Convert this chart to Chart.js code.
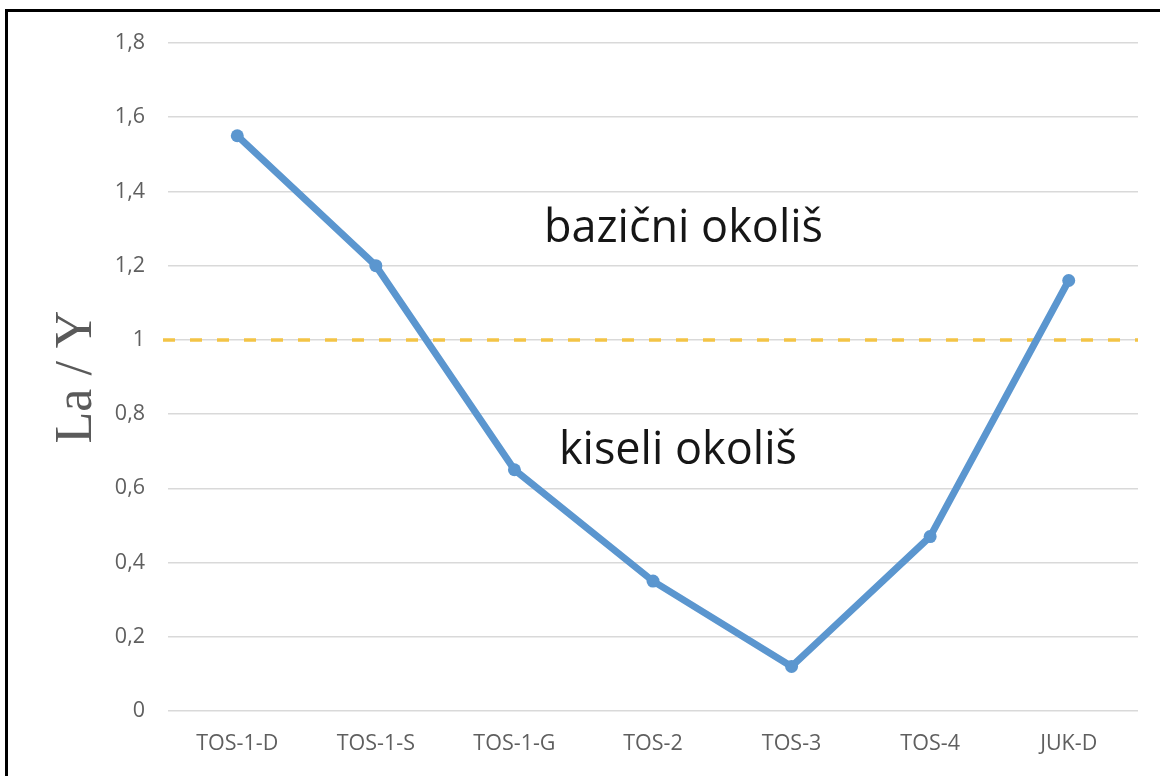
<!DOCTYPE html>
<html>
<head>
<meta charset="utf-8">
<title>La / Y</title>
<script src="https://cdn.jsdelivr.net/npm/chart.js@4/dist/chart.umd.min.js"></script>
<style>
  html, body { margin: 0; padding: 0; background: #ffffff; }
  #wrap { position: relative; width: 1160px; height: 776px; overflow: hidden; }
  #frame {
    position: absolute; left: 5px; top: 9px; right: -10px; bottom: -10px;
    border-top: 3px solid #000; border-left: 3px solid #000;
    pointer-events: none;
  }
  canvas { position: absolute; left: 0; top: 0; }
</style>
</head>
<body>
<div id="wrap">
  <canvas id="chart" width="1160" height="776"></canvas>
  <div id="frame"></div>
</div>
<script>
// Samples along the profile
const categories = ['TOS-1-D', 'TOS-1-S', 'TOS-1-G', 'TOS-2', 'TOS-3', 'TOS-4', 'JUK-D'];
// La/Y ratio for each sample
const laYRatio = [1.55, 1.2, 0.65, 0.35, 0.12, 0.47, 1.16];
// Value axis range
const yMin = 0;
const yMax = 1.8;
const yStep = 0.2;
// Ratio separating basic from acidic conditions
const boundaryLevel = 1;
// Zone captions
const zoneLabels = ['bazični okoliš', 'kiseli okoliš'];

const tickFont = { family: "'Open Sans', 'Noto Sans', sans-serif", size: 21.5 };
const tickColor = '#5f5f5f';

// Dashed boundary line across the plot, placed through the y scale
const boundaryPlugin = {
  id: 'boundaryLine',
  beforeDatasetsDraw(chart) {
    const { ctx, chartArea, scales } = chart;
    const y = scales.y.getPixelForValue(boundaryLevel);
    ctx.save();
    ctx.strokeStyle = '#f3c446';
    ctx.lineWidth = 3.5;
    ctx.setLineDash([12, 15]);
    ctx.beginPath();
    ctx.moveTo(chartArea.left - 5, y);
    ctx.lineTo(chartArea.right, y);
    ctx.stroke();
    ctx.restore();
  }
};

// Zone captions anchored in data space (category index, value)
const zonePlugin = {
  id: 'zoneCaptions',
  afterDatasetsDraw(chart) {
    const { ctx, scales } = chart;
    const anchors = [
      { x: 3.22, y: 1.265 },
      { x: 3.18, y: 0.665 }
    ];
    ctx.save();
    ctx.fillStyle = '#161616';
    ctx.font = "45px 'Open Sans', 'Noto Sans', sans-serif";
    ctx.textAlign = 'center';
    ctx.textBaseline = 'alphabetic';
    zoneLabels.forEach((text, i) => {
      ctx.fillText(text, scales.x.getPixelForValue(anchors[i].x), scales.y.getPixelForValue(anchors[i].y));
    });
    ctx.restore();
  }
};

new Chart(document.getElementById('chart'), {
  type: 'line',
  data: {
    labels: categories,
    datasets: [{
      label: 'La / Y',
      data: laYRatio,
      borderColor: '#5b96cf',
      backgroundColor: '#5b96cf',
      borderWidth: 7,
      pointRadius: 6.5,
      pointHoverRadius: 6.5,
      pointBorderWidth: 0,
      tension: 0,
      borderJoinStyle: 'round',
      borderCapStyle: 'round',
      clip: false
    }]
  },
  options: {
    responsive: false,
    animation: false,
    devicePixelRatio: 1,
    layout: { padding: { left: 8, right: 22, top: 43, bottom: 0 } },
    plugins: {
      legend: { display: false },
      tooltip: { enabled: false },
      title: { display: false }
    },
    scales: {
      x: {
        type: 'category',
        offset: true,
        grid: { display: false, drawTicks: false },
        border: { display: false },
        ticks: { font: tickFont, color: tickColor, padding: 20, maxRotation: 0 },
        afterFit(scale) { scale.height = 65; }
      },
      y: {
        min: yMin,
        max: yMax,
        grid: { color: '#d9d9d9', lineWidth: 1.5, drawTicks: false },
        border: { display: false },
        ticks: {
          stepSize: yStep,
          font: tickFont,
          color: tickColor,
          padding: 23,
          callback: (v) => String(Number(v.toFixed(1))).replace('.', ',')
        },
        title: {
          display: true,
          text: 'La / Y',
          color: '#5a5a5a',
          font: { family: "'Liberation Serif', 'DejaVu Serif', serif", size: 52, lineHeight: 1 },
          padding: { top: 43, bottom: 0 }
        },
        afterFit(scale) { scale.width = 160; }
      }
    }
  },
  plugins: [boundaryPlugin, zonePlugin]
});
</script>
</body>
</html>
